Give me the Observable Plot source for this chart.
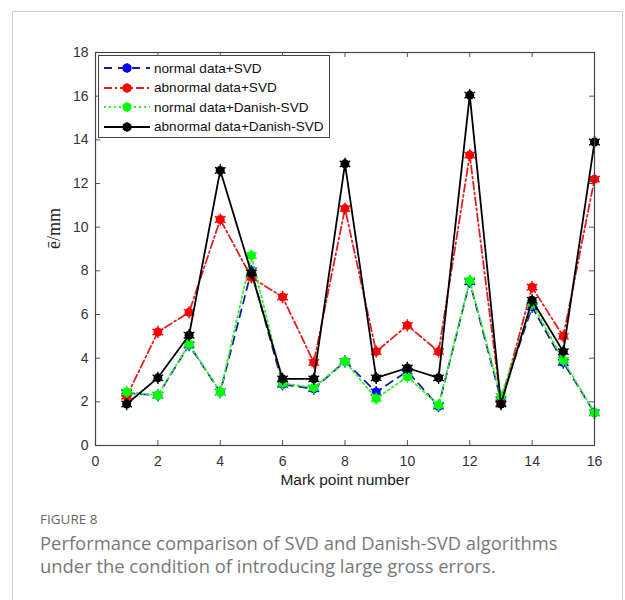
<!DOCTYPE html>
<html>
<head>
<meta charset="utf-8">
<script src="https://cdn.jsdelivr.net/npm/d3@7"></script>
<script src="https://cdn.jsdelivr.net/npm/@observablehq/plot@0.6"></script>
<style>
  html, body { margin: 0; padding: 0; background: #fff; }
  body { width: 625px; height: 600px; position: relative; overflow: hidden; }
  #frame { position: absolute; left: 12px; top: 11px; width: 611px; height: 700px; border: 1px solid #d0d0d0; box-sizing: border-box; }
  #chart { position: absolute; left: 0; top: 0; }
  #legend { position: absolute; left: 98px; top: 55px; width: 232px; height: 83px; border: 1px solid #444; background: #fff; box-sizing: border-box; font-family: "Liberation Sans", Arial, sans-serif; font-size: 13.6px; color: #111; }
  .row { position: absolute; left: 4px; height: 18px; display: flex; align-items: center; }
  .row svg { display: block; }
  .row span { margin-left: 3px; white-space: nowrap; }
  #figlabel { position: absolute; left: 40px; top: 510px; font-family: "Open Sans", sans-serif; font-size: 13.5px; color: #666; }
  #caption { position: absolute; left: 40px; top: 531px; width: 570px; font-family: "Open Sans", sans-serif; font-weight: 400; font-size: 18.4px; line-height: 23px; color: #777; }
</style>
</head>
<body>
<div id="frame"></div>
<div id="chart"></div>
<div id="legend"></div>
<div id="figlabel">FIGURE 8</div>
<div id="caption">Performance comparison of SVD and Danish-SVD algorithms<br>under the condition of introducing large gross errors.</div>
<script>
const markPoints = [1, 2, 3, 4, 5, 6, 7, 8, 9, 10, 11, 12, 13, 14, 15, 16];
const normalSVD = [2.4, 2.3, 4.6, 2.45, 8.0, 2.8, 2.6, 3.85, 2.45, 3.4, 1.8, 7.5, 2.1, 6.35, 3.8, 1.5];
const abnormalSVD = [2.25, 5.2, 6.1, 10.35, 7.7, 6.8, 3.8, 10.85, 4.3, 5.5, 4.3, 13.3, 1.95, 7.25, 5.0, 12.2];
const normalDanish = [2.45, 2.3, 4.65, 2.45, 8.7, 2.85, 2.65, 3.85, 2.15, 3.15, 1.85, 7.55, 2.25, 6.5, 3.9, 1.5];
const abnormalDanish = [1.9, 3.1, 5.05, 12.6, 7.9, 3.05, 3.05, 12.9, 3.1, 3.55, 3.1, 16.05, 1.9, 6.65, 4.3, 13.9];
const xTicks = [0, 2, 4, 6, 8, 10, 12, 14, 16];
const yTicks = [0, 2, 4, 6, 8, 10, 12, 14, 16, 18];

const seriesNames = ["normal data+SVD", "abnormal data+SVD", "normal data+Danish-SVD", "abnormal data+Danish-SVD"];
const seriesValues = [normalSVD, abnormalSVD, normalDanish, abnormalDanish];
const styles = [
  {line: "#1a1aa0", marker: "#0000ff", dash: "8,6"},
  {line: "#e02020", marker: "#ff0000", dash: "8,3,2,3"},
  {line: "#33ee33", marker: "#00ff00", dash: "2,3"},
  {line: "#000000", marker: "#000000", dash: null}
];

const W = 625, H = 500;
const mL = 95, mT = 52, mR = 31, mB = 55;
const iw = W - mL - mR, ih = H - mT - mB;

const marks = [];
seriesValues.forEach((vals, i) => {
  const data = markPoints.map((x, j) => ({x, y: vals[j]}));
  const s = styles[i];
  marks.push(Plot.line(data, {x: "x", y: "y", stroke: s.line, strokeWidth: 1.8, strokeDasharray: s.dash}));
  marks.push(Plot.dot(data, {x: "x", y: "y", r: 4.5, fill: s.marker, stroke: "none"}));
  marks.push(Plot.dot(data, {x: "x", y: "y", r: 5.8, symbol: "asterisk", stroke: s.marker, strokeWidth: 1.4}));
});

const tickStroke = "#555";
const chart = Plot.plot({
  width: W, height: H,
  marginLeft: mL, marginTop: mT, marginRight: mR, marginBottom: mB,
  style: {fontFamily: "'Liberation Sans', Arial, sans-serif", background: "transparent"},
  x: {domain: [0, 16]},
  y: {domain: [0, 18]},
  marks: [
    Plot.tickY(yTicks, {y: d => d, stroke: tickStroke, insetRight: iw - 5}),
    Plot.tickY(yTicks, {y: d => d, stroke: tickStroke, insetLeft: iw - 5}),
    Plot.tickX(xTicks, {x: d => d, stroke: tickStroke, insetTop: ih - 5}),
    Plot.tickX(xTicks, {x: d => d, stroke: tickStroke, insetBottom: ih - 5}),
    Plot.axisX({ticks: xTicks, tickSize: 0, tickPadding: 11, fontSize: 14, fill: "#333", label: null, fontFamily: "'Liberation Sans', Arial, sans-serif"}),
    Plot.axisY({ticks: yTicks, tickSize: 0, tickPadding: 7, fontSize: 14, fill: "#333", label: null, fontFamily: "'Liberation Sans', Arial, sans-serif"}),
    ...marks,
    Plot.frame({stroke: "#444", strokeWidth: 1.2}),
    Plot.text(["Mark point number"], {frameAnchor: "bottom", dy: 39, fontSize: 15.5, fill: "#222", text: d => d, fontFamily: "'Liberation Sans', Arial, sans-serif"}),
    Plot.text(["\u0113/mm"], {frameAnchor: "left", dx: -41, rotate: -90, fontSize: 18, fontFamily: "'Liberation Serif', 'Times New Roman', serif", fill: "#222", text: d => d})
  ]
});
document.getElementById("chart").appendChild(chart);

// legend
const legend = document.getElementById("legend");
seriesNames.forEach((name, i) => {
  const s = styles[i];
  const row = document.createElement("div");
  row.className = "row";
  row.style.top = (3 + i * 19.5) + "px";
  const ns = "http://www.w3.org/2000/svg";
  const svg = document.createElementNS(ns, "svg");
  svg.setAttribute("width", 48); svg.setAttribute("height", 14);
  const ln = document.createElementNS(ns, "line");
  ln.setAttribute("x1", 1); ln.setAttribute("x2", 47); ln.setAttribute("y1", 7); ln.setAttribute("y2", 7);
  ln.setAttribute("stroke", s.line); ln.setAttribute("stroke-width", 2);
  if (s.dash) ln.setAttribute("stroke-dasharray", s.dash);
  svg.appendChild(ln);
  const c = document.createElementNS(ns, "circle");
  c.setAttribute("cx", 24); c.setAttribute("cy", 7); c.setAttribute("r", 4.5); c.setAttribute("fill", s.marker);
  svg.appendChild(c);
  const g = document.createElementNS(ns, "path");
  g.setAttribute("d", d3.symbol(d3.symbolAsterisk, 64)());
  g.setAttribute("transform", "translate(24,7)");
  g.setAttribute("stroke", s.marker); g.setAttribute("stroke-width", 1.4); g.setAttribute("fill", "none");
  svg.appendChild(g);
  row.appendChild(svg);
  const sp = document.createElement("span");
  sp.textContent = name;
  row.appendChild(sp);
  legend.appendChild(row);
});
</script>
</body>
</html>
